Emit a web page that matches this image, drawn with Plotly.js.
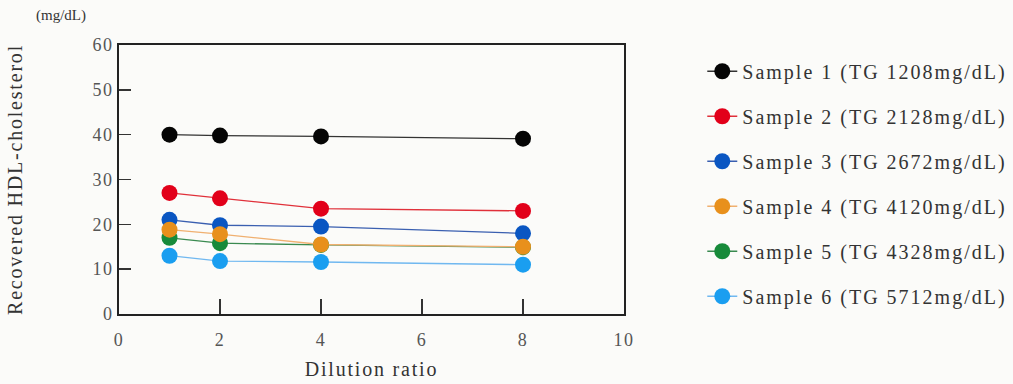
<!DOCTYPE html>
<html><head><meta charset="utf-8">
<script src="https://cdn.plot.ly/plotly-3.0.1.min.js"></script>
<style>
html,body{margin:0;padding:0;background:#fbfbf9;}
#chart{width:1013px;height:384px;}
.legendtext{letter-spacing:2px;}
.xtitle,.ytitle{letter-spacing:1.8px;}
.xtick text,.ytick text{letter-spacing:1.5px;}
</style>
</head><body><div id="chart"></div>
<script>
const dilution = [1, 2, 4, 8];
const seriesNames = [
  "Sample 1 (TG 1208mg/dL)",
  "Sample 2 (TG 2128mg/dL)",
  "Sample 3 (TG 2672mg/dL)",
  "Sample 4 (TG 4120mg/dL)",
  "Sample 5 (TG 4328mg/dL)",
  "Sample 6 (TG 5712mg/dL)"
];
const sample1 = [40, 39.8, 39.6, 39.1];
const sample2 = [27, 25.8, 23.5, 23];
const sample3 = [21, 19.8, 19.5, 18];
const sample4 = [18.8, 17.8, 15.5, 15];
const sample5 = [17, 15.8, 15.4, 14.9];
const sample6 = [13, 11.8, 11.6, 11];
const seriesValues = [sample1, sample2, sample3, sample4, sample5, sample6];
const markerColors = ["#050505", "#e2001a", "#0a56c2", "#e8901c", "#178a3a", "#1a9ef0"];
const lineColors = ["#333333", "#e0303a", "#3a5fb0", "#f0b070", "#3a8a50", "#70b8f0"];
const xTicks = [0, 2, 4, 6, 8, 10];
const yTicks = [0, 10, 20, 30, 40, 50, 60];

const font = "Liberation Serif, Times New Roman, serif";
const drawOrder = [0, 1, 2, 4, 3, 5];
const traces = drawOrder.map(i => ({
  x: dilution, y: seriesValues[i], name: seriesNames[i],
  type: "scatter", mode: "lines+markers",
  legendrank: i + 1, legendgroup: "g" + i,
  line: {color: lineColors[i], width: 1.3},
  marker: {color: markerColors[i], size: 16}
}));

const layout = {
  width: 1013, height: 384,
  paper_bgcolor: "#fbfbf9", plot_bgcolor: "#fbfbf9",
  margin: {l: 119, r: 389, t: 45, b: 70, autoexpand: false},
  font: {family: font, color: "#333"},
  showlegend: true,
  legend: {x: 1.155, y: 0.975, xanchor: "left", yanchor: "top",
    font: {family: font, size: 20, color: "#333"},
    traceorder: "grouped", tracegroupgap: 16, bgcolor: "rgba(0,0,0,0)", itemwidth: 30},
  xaxis: {range: [0, 10], tickvals: xTicks, ticks: "inside", ticklen: 15, tickwidth: 1.5,
    tickcolor: "#333", showline: true, linecolor: "#222", linewidth: 2, mirror: true,
    showgrid: false, zeroline: false, tickfont: {size: 18, color: "#555"}, ticklabelstandoff: 8,
    title: {text: "Dilution ratio", font: {size: 20, color: "#333"}, standoff: 13}},
  yaxis: {range: [0, 60], tickvals: yTicks, ticks: "inside", ticklen: 12, tickwidth: 1.5,
    tickcolor: "#333", showline: true, linecolor: "#222", linewidth: 2, mirror: true,
    showgrid: false, zeroline: false, tickfont: {size: 18, color: "#555"},
    title: {text: "Recovered HDL-cholesterol", font: {size: 20, color: "#333"}, standoff: 64}},
  annotations: [{text: "(mg/dL)", xref: "paper", yref: "paper", x: -0.061, y: 1.07,
    xanchor: "right", yanchor: "bottom", showarrow: false, font: {size: 15, color: "#333"}}]
};
Plotly.newPlot("chart", traces, layout, {displayModeBar: false, staticPlot: true});
</script></body></html>
